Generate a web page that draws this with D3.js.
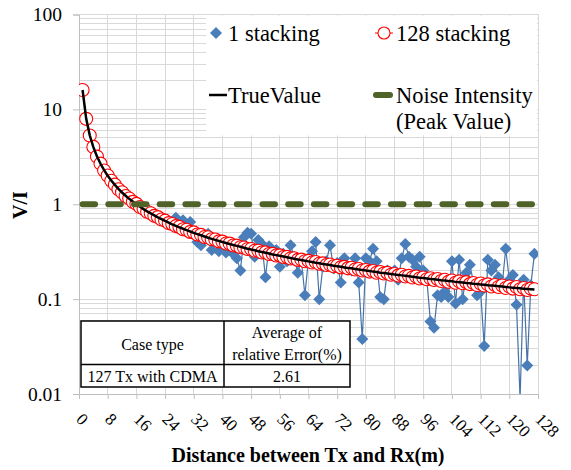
<!DOCTYPE html>
<html><head><meta charset="utf-8">
<script src="https://cdn.jsdelivr.net/npm/d3@7"></script>
<style>body{margin:0;background:#fff}svg{display:block}text{font-family:"Liberation Serif","Times New Roman",serif}</style>
</head><body><svg id="c" width="571" height="470"></svg>
<script>
// ---- data ----
const distances = d3.range(1, 128); // 1..127 m
const stacking1 = [16.1,7.9,5.4,3.95,3.25,2.63,2.31,1.98,1.8,1.58,1.47,1.31,1.25,1.12,1.1,1.07,0.98,0.92,0.84,0.78,
 0.74,0.76,0.68,0.7,0.66,0.64,0.72,0.6,0.68,0.55,0.65,0.5,0.4,0.37,0.45,0.49,0.33,0.42,0.32,0.35,
 0.31,0.38,0.3,0.27,0.2,0.45,0.5,0.49,0.28,0.42,0.38,0.17,0.36,0.3,0.33,0.22,0.3,0.25,0.37,0.28,
 0.19,0.26,0.11,0.27,0.32,0.4,0.1,0.22,0.25,0.37,0.21,0.24,0.15,0.27,0.22,0.2,0.27,0.15,0.038,0.27,
 0.25,0.34,0.25,0.105,0.1,0.2,0.19,0.2,0.16,0.27,0.38,0.28,0.26,0.22,0.28,0.2,0.16,0.058,0.05,0.11,
 0.105,0.12,0.105,0.25,0.09,0.26,0.1,0.19,0.23,0.15,0.11,0.12,0.032,0.26,0.2,0.23,0.17,0.14,0.34,0.16,
 0.18,0.087,0.009,0.16,0.02,0.14,0.30];
const stacking128 = [16.0,7.95,5.30,4.02,3.18,2.68,2.27,2.01,1.77,1.61,1.44,1.34,1.22,1.15,1.06,1.01,0.935,0.895,0.835,0.805,
 0.755,0.732,0.690,0.672,0.633,0.620,0.588,0.577,0.546,0.538,0.511,0.505,0.480,0.476,0.452,0.449,0.428,0.425,0.406,0.404,
 0.386,0.385,0.368,0.366,0.352,0.350,0.337,0.338,0.323,0.324,0.310,0.311,0.299,0.300,0.288,0.289,0.278,0.279,0.268,0.270,
 0.259,0.261,0.251,0.253,0.243,0.246,0.236,0.238,0.229,0.232,0.222,0.225,0.216,0.219,0.211,0.214,0.205,0.208,0.200,0.203,
 0.195,0.198,0.190,0.193,0.186,0.189,0.181,0.184,0.177,0.181,0.173,0.176,0.169,0.173,0.165,0.169,0.162,0.166,0.159,0.163,
 0.155,0.160,0.152,0.157,0.149,0.154,0.147,0.151,0.144,0.148,0.141,0.146,0.139,0.143,0.136,0.141,0.134,0.139,0.131,0.136,
 0.129,0.134,0.127,0.131,0.125,0.129,0.127];
const trueValue = [16.0,8.00,5.33,4.00,3.20,2.67,2.29,2.00,1.78,1.60,1.45,1.33,1.23,1.14,1.07,1.00,0.941,0.889,0.842,0.800,
 0.762,0.727,0.696,0.667,0.640,0.615,0.593,0.571,0.552,0.533,0.516,0.500,0.485,0.471,0.457,0.444,0.432,0.421,0.410,0.400,
 0.390,0.381,0.372,0.364,0.356,0.348,0.340,0.333,0.327,0.320,0.314,0.308,0.302,0.296,0.291,0.286,0.281,0.276,0.271,0.267,
 0.262,0.258,0.254,0.250,0.246,0.242,0.239,0.235,0.232,0.229,0.225,0.222,0.219,0.216,0.213,0.211,0.208,0.205,0.203,0.200,
 0.198,0.195,0.193,0.190,0.188,0.186,0.184,0.182,0.180,0.178,0.176,0.174,0.172,0.170,0.168,0.167,0.165,0.163,0.162,0.160,
 0.158,0.157,0.155,0.154,0.152,0.151,0.150,0.148,0.147,0.145,0.144,0.143,0.142,0.140,0.139,0.138,0.137,0.136,0.134,0.133,
 0.132,0.131,0.130,0.129,0.128,0.127,0.126];
const noiseX = [1, 127];
const noiseLevel = [1, 1];
const xTicks = d3.range(0, 129, 8);
const yTicks = [0.01, 0.1, 1, 10, 100];
const legendLabels = ["1 stacking", "128 stacking", "TrueValue", "Noise Intensity", "(Peak Value)"];
const tableHeader = ["Case type", "Average of", "relative Error(%)"];
const tableRow = ["127 Tx with CDMA", "2.61"];

// ---- layout ----
const svg = d3.select("#c");
const L = 79, R = 538, T = 14.5, B = 394;
const x = d3.scaleLinear().domain([0, 128]).range([L, R]);
const y = d3.scaleLog().domain([0.01, 100]).range([B, T]);

// gridlines
const grid = svg.append("g").attr("stroke", "#d9d9d9").attr("stroke-width", 1).attr("shape-rendering", "crispEdges");
const minor = [];
[0.01, 0.1, 1, 10].forEach(d => { for (let k = 2; k <= 9; k++) minor.push(d * k); });
grid.selectAll(".mn").data(minor).join("line").attr("x1", L).attr("x2", R).attr("y1", d => y(d)).attr("y2", d => y(d));
grid.selectAll(".mj").data(yTicks).join("line").attr("x1", L).attr("x2", R).attr("y1", d => y(d)).attr("y2", d => y(d));
grid.selectAll(".vx").data(xTicks).join("line").attr("x1", d => x(d)).attr("x2", d => x(d)).attr("y1", T).attr("y2", B);

// axes
const yAxis = svg.append("g").attr("transform", `translate(${L},0)`)
  .call(d3.axisLeft(y).tickValues(yTicks).tickSize(6).tickFormat(d => String(d)));
yAxis.select(".domain").attr("stroke", "#bfbfbf");
yAxis.selectAll(".tick line").attr("stroke", "#bfbfbf");
yAxis.selectAll(".tick text").attr("font-size", 19.5).attr("fill", "#000").attr("x", -17)
  .attr("font-family", "Liberation Serif");

const xAxis = svg.append("g").attr("transform", `translate(0,${B})`)
  .call(d3.axisBottom(x).tickValues(xTicks).tickSize(5).tickFormat(d => String(d)));
xAxis.select(".domain").attr("stroke", "#bfbfbf");
xAxis.selectAll(".tick line").attr("stroke", "#bfbfbf");
xAxis.selectAll(".tick text").attr("font-size", 17).attr("fill", "#000").attr("font-family", "Liberation Serif")
  .attr("text-anchor", "start").attr("y", 0).attr("dy", "0.35em")
  .attr("transform", "translate(0,22) rotate(45)");

// plot border (top/right)
svg.append("path").attr("d", `M${L},${T}H${R}V${B}`).attr("fill", "none").attr("stroke", "#d9d9d9")
  .attr("shape-rendering", "crispEdges");

// clip
svg.append("clipPath").attr("id", "pc").append("rect").attr("x", L).attr("y", T).attr("width", R - L).attr("height", B - T);
const plot = svg.append("g").attr("clip-path", "url(#pc)");

// series 1 stacking
const line = (arr) => d3.line().x((d, i) => x(distances[i])).y(d => y(d))(arr);
plot.append("path").attr("d", line(stacking1)).attr("fill", "none").attr("stroke", "#4572a7").attr("stroke-width", 1.2);
const diamond = s => `M0,${-s}L${s},0L0,${s}L${-s},0Z`;
plot.selectAll(".dm").data(stacking1.map((v, i) => [distances[i], v]).filter(d => d[1] >= 0.01)).join("path")
  .attr("d", diamond(6)).attr("transform", d => `translate(${x(d[0])},${y(d[1])})`).attr("fill", "#4a7ebb");

// series 128 stacking
plot.append("path").attr("d", line(stacking128)).attr("fill", "none").attr("stroke", "#ff0000").attr("stroke-width", 1);
plot.selectAll(".rc").data(stacking128).join("circle")
  .attr("cx", (d, i) => x(distances[i])).attr("cy", d => y(d)).attr("r", 6.5)
  .attr("fill", "#fff").attr("stroke", "#ff0000").attr("stroke-width", 1.1);

// true value
plot.append("path").attr("d", line(trueValue)).attr("fill", "none").attr("stroke", "#000").attr("stroke-width", 2.5);

// noise
plot.append("path").attr("d", d3.line().x((d, i) => x(noiseX[i])).y(d => y(d))(noiseLevel))
  .attr("fill", "none").attr("stroke", "#4f6228").attr("stroke-width", 6)
  .attr("stroke-linecap", "round").attr("stroke-dasharray", "12.5 13.2");

// legend
const lg = svg.append("g");
lg.append("rect").attr("x", 206).attr("y", 15.5).attr("width", 331).attr("height", 120).attr("fill", "#fff");
lg.append("path").attr("d", diamond(6)).attr("transform", "translate(216,33)").attr("fill", "#4a7ebb");
lg.append("line").attr("x1", 375).attr("x2", 393).attr("y1", 33).attr("y2", 33).attr("stroke", "#ff0000").attr("stroke-width", 1);
lg.append("circle").attr("cx", 384).attr("cy", 33).attr("r", 6).attr("fill", "#fff").attr("stroke", "#ff0000").attr("stroke-width", 1.1);
lg.append("line").attr("x1", 209).attr("x2", 227).attr("y1", 95).attr("y2", 95).attr("stroke", "#000").attr("stroke-width", 2.5);
lg.append("line").attr("x1", 376).attr("x2", 390).attr("y1", 95).attr("y2", 95).attr("stroke", "#4f6228").attr("stroke-width", 6).attr("stroke-linecap", "round");
const lt = [[228, 33, legendLabels[0]], [396, 33, legendLabels[1]], [228, 95, legendLabels[2]], [396, 95, legendLabels[3]], [396, 121, legendLabels[4]]];
lg.selectAll("text").data(lt).join("text").attr("x", d => d[0]).attr("y", d => d[1]).attr("dy", "0.35em")
  .attr("font-size", 22.5).text(d => d[2]);
// border over legend
svg.append("path").attr("d", `M${206},${T}H${R}V${137}`).attr("fill", "none").attr("stroke", "#d9d9d9").attr("shape-rendering", "crispEdges");

// table
const tb = svg.append("g");
tb.append("rect").attr("x", 81).attr("y", 321).attr("width", 269).attr("height", 66).attr("fill", "#fff").attr("stroke", "#000").attr("stroke-width", 1.5);
tb.append("line").attr("x1", 81).attr("x2", 350).attr("y1", 364.5).attr("y2", 364.5).attr("stroke", "#000").attr("stroke-width", 1.5);
tb.append("line").attr("x1", 224).attr("x2", 224).attr("y1", 321).attr("y2", 387).attr("stroke", "#000").attr("stroke-width", 1.5);
const tt = [[152.5, 344, tableHeader[0]], [287, 332, tableHeader[1]], [287, 354, tableHeader[2]], [152.5, 376, tableRow[0]], [287, 376, tableRow[1]]];
tb.selectAll("text").data(tt).join("text").attr("x", d => d[0]).attr("y", d => d[1]).attr("dy", "0.35em")
  .attr("text-anchor", "middle").attr("font-size", 16).text(d => d[2]);

// axis titles
svg.append("text").attr("transform", "translate(27,205) rotate(-90)").attr("text-anchor", "middle")
  .attr("font-size", 20).attr("font-weight", "bold").text("V/I");
svg.append("text").attr("x", 308).attr("y", 462).attr("text-anchor", "middle")
  .attr("font-size", 20).attr("font-weight", "bold").text("Distance between Tx and Rx(m)");
</script></body></html>
